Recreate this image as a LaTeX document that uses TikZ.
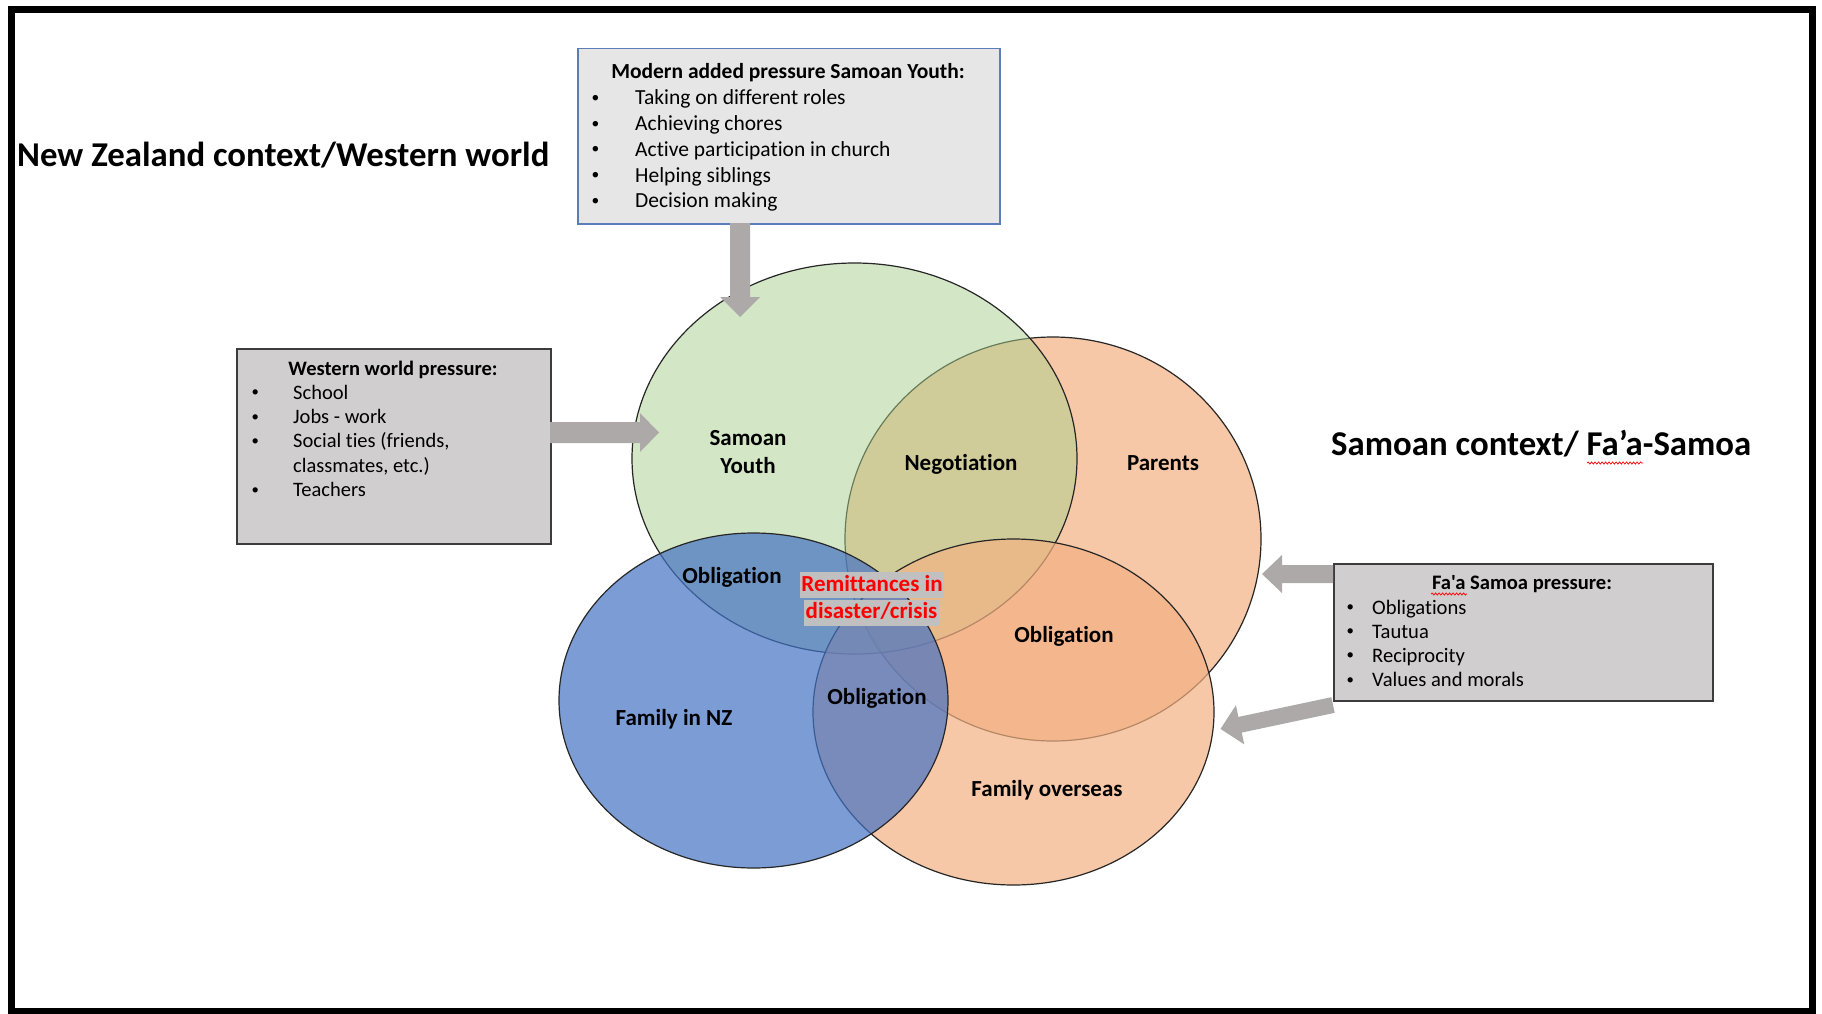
\documentclass[tikz,border=0pt]{standalone}
\usepackage{fontspec}
\setmainfont{Carlito}[Ligatures={TeXOff,CommonOff}]
\usetikzlibrary{decorations.pathmorphing}
\definecolor{gfill}{RGB}{169,209,142}
\definecolor{ofill}{RGB}{244,177,131}
\definecolor{bfill}{RGB}{68,114,196}
\definecolor{boxgray}{RGB}{208,206,206}
\definecolor{boxlight}{RGB}{231,230,230}
\definecolor{boxblue}{RGB}{91,125,185}
\definecolor{boxedge}{RGB}{60,60,60}
\definecolor{arrowgray}{RGB}{173,169,169}
\definecolor{hlgray}{RGB}{192,192,192}
\newcommand{\bul}{\raisebox{0.12em}{\scalebox{0.72}{•}}}
\begin{document}
\begin{tikzpicture}[x=1pt,y=-1pt,
  venn/.style={draw=black!85, line width=1.2pt},
  lbl/.style={font=\fontsize{23}{28}\selectfont\bfseries, anchor=base, inner sep=0pt},
  rem/.style={font=\fontsize{23}{28}\selectfont\bfseries, text=red, fill=hlgray, anchor=base, inner xsep=1.5pt, inner ysep=2pt, text height=17pt, text depth=5pt},
  bigtitle/.style={font=\fontsize{34.8}{42}\selectfont\bfseries, anchor=base west, inner sep=0pt},
  boxtitle/.style={anchor=base, inner sep=0pt},
  item/.style={anchor=base west, inner sep=0pt},
  blockarrow/.style={fill=arrowgray},
  squig/.style={draw=red, line width=0.7pt, decorate, decoration={snake, amplitude=1.1pt, segment length=3.5pt}}]
\useasboundingbox (0,0) rectangle (1822,1014);
\fill[white] (0,0) rectangle (1822,1014);
% frame
\draw[line width=7pt] (11.5,9.5) rectangle (1812.5,1011.5);

% ellipses
\draw[venn, fill=ofill, fill opacity=0.7] (1053,539) ellipse [x radius=208pt, y radius=202pt];
\draw[venn, fill=gfill, fill opacity=0.5] (854.5,458.5) ellipse [x radius=222.5pt, y radius=195.5pt];
\draw[venn, fill=ofill, fill opacity=0.7] (1013.5,712) ellipse [x radius=200.5pt, y radius=173pt];
\draw[venn, fill=bfill, fill opacity=0.7] (753.5,700.5) ellipse [x radius=194.5pt, y radius=167.5pt];

% boxes
\node[draw=boxblue, line width=1.5pt, fill=boxlight, anchor=north west, minimum width=422pt, minimum height=175pt, inner sep=0pt] (mbox) at (577,48) {};
\node[draw=boxedge, line width=1.5pt, fill=boxgray, anchor=north west, minimum width=314pt, minimum height=195pt, inner sep=0pt] (wbox) at (236,348) {};
\node[draw=boxedge, line width=1.5pt, fill=boxgray, anchor=north west, minimum width=379pt, minimum height=137pt, inner sep=0pt] (fbox) at (1333,563) {};

% block arrows
\fill[blockarrow] (730,223) -- (750,223) -- (750,297) -- (760,297) -- (740,317) -- (720,297) -- (730,297) -- cycle;
\fill[blockarrow] (550,422) -- (640,422) -- (640,413) -- (659,432.5) -- (640,452) -- (640,443) -- (550,443) -- cycle;
\fill[blockarrow] (1333,565) -- (1282,565) -- (1282,555) -- (1262,574) -- (1282,593) -- (1282,583) -- (1333,583) -- cycle;
\begin{scope}[shift={(1333,705)}, rotate=12]
\fill[blockarrow] (0,-8) -- (-95,-8) -- (-95,-20) -- (-115,0) -- (-95,20) -- (-95,8) -- (0,8) -- cycle;
\end{scope}

% titles
\node[bigtitle] (nzt) at (17,166) {New Zealand context/Western world};
\node[bigtitle] (smt) at (1331,455) {Samoan context/ Fa’a-Samoa};
\draw[squig] (1587,463) -- (1643,463);

% top box text
\begin{scope}[font=\fontsize{21.5}{26}\selectfont]
\node[boxtitle, font=\fontsize{21.5}{26}\selectfont\bfseries] (mt) at (788,79) {Modern added pressure Samoan Youth:};
\foreach \t [count=\i] in {Taking on different roles, Achieving chores, Active participation in church, Helping siblings, Decision making}
  \node[item] (m\i) at (591.5,{105+25.7*(\i-1)}) {\makebox[43.5pt][l]{\bul}\t};
\end{scope}

% western box text
\begin{scope}[font=\fontsize{20.5}{24.3}\selectfont]
\node[boxtitle, font=\fontsize{20.5}{24.3}\selectfont\bfseries] (wt) at (393,375) {Western world pressure:};
\node[item] (w1) at (251.5,399.3) {\makebox[41.5pt][l]{\bul}School};
\node[item] (w2) at (251.5,423.6) {\makebox[41.5pt][l]{\bul}Jobs - work};
\node[item] (w3) at (251.5,447.9) {\makebox[41.5pt][l]{\bul}Social ties (friends,};
\node[item] (w3b) at (293,472.2) {classmates, etc.)};
\node[item] (w4) at (251.5,496.5) {\makebox[41.5pt][l]{\bul}Teachers};
\end{scope}

% fa'a samoa box text
\begin{scope}[font=\fontsize{20.6}{24.5}\selectfont]
\node[boxtitle, font=\fontsize{20.6}{24.5}\selectfont\bfseries] (ft) at (1522,589) {Fa'a Samoa pressure:};
\draw[squig] (1431,594) -- (1467,594);
\foreach \t [count=\i] in {Obligations, Tautua, Reciprocity, Values and morals}
  \node[item] (f\i) at (1346.5,{614+24.2*(\i-1)}) {\makebox[25.5pt][l]{\bul}\t};
\end{scope}

% venn labels
\node[lbl] (sy1) at (748,445.5) {Samoan};
\node[lbl] (sy2) at (748,473.5) {Youth};
\node[lbl] (neg) at (961,470.5) {Negotiation};
\node[lbl] (par) at (1163,470.5) {Parents};
\node[lbl] (ob1) at (732,583.5) {Obligation};
\node[lbl] (ob2) at (1064,642) {Obligation};
\node[lbl] (ob3) at (877,704.5) {Obligation};
\node[lbl] (fnz) at (674,725.5) {Family in NZ};
\node[lbl] (fov) at (1047,796.5) {Family overseas};
\node[rem] (rem1) at (872,591) {Remittances in};
\node[rem] (rem2) at (871.5,618.5) {disaster/crisis};
\end{tikzpicture}
\end{document}
